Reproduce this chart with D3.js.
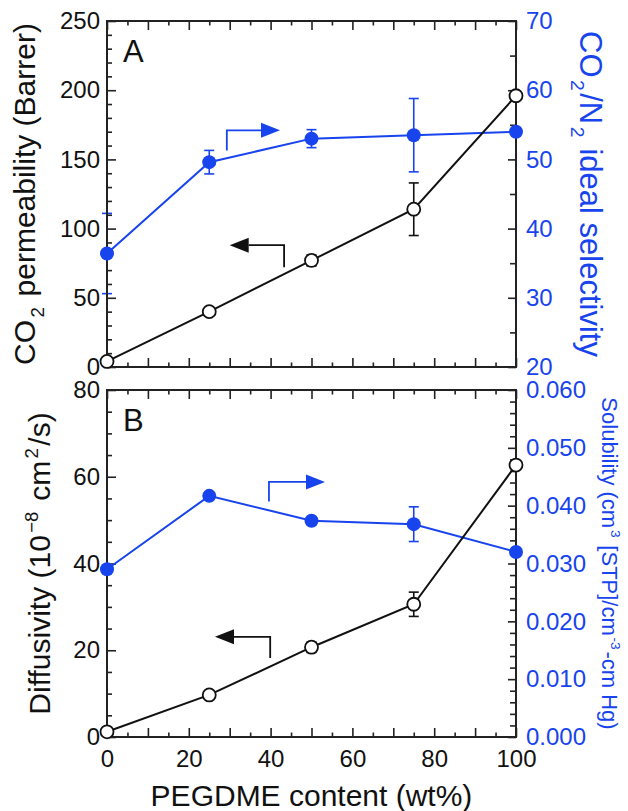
<!DOCTYPE html>
<html lang="en">
<head>
  <meta charset="UTF-8">
  <title>PEGDME content</title>
  <script src="https://cdn.jsdelivr.net/npm/d3@7"></script>
  <style>
    body{ margin:0; background:#fff; }
    svg text{ font-family: "Liberation Sans", Arial, sans-serif; }
  </style>
</head>
<body>
<div class="chart"></div>
<script>
// values
const pegdme = [0, 25, 50, 75, 100];
const permeability = [4, 40, 77, 114, 196];
const permeabilityErr = [0, 0, 4, 19, 0];
const selectivity = [36.4, 49.6, 53.0, 53.5, 54.0];
const selectivityErr = [5.8, 1.7, 1.3, 5.3, 0];
const diffusivity = [1.2, 9.7, 20.7, 30.6, 62.7];
const diffusivityErr = [0, 0, 1.2, 2.8, 0];
const solubility = [0.0290, 0.0417, 0.0374, 0.0368, 0.0320];
const solubilityErr = [0, 0, 0, 0.003, 0];

const xTicks = [0, 20, 40, 60, 80, 100];
const permTicks = [0, 50, 100, 150, 200, 250];
const selTicks = [20, 30, 40, 50, 60, 70];
const diffTicks = [0, 20, 40, 60, 80];
const solTicks = [0, 0.01, 0.02, 0.03, 0.04, 0.05, 0.06];

const W = 628, H = 811;
const blue = '#1844ee';
const left = 107, right = 516;

const svg = d3.select('.chart').append('svg').attr('width', W).attr('height', H);

const x = d3.scaleLinear().domain([0, 100]).range([left, right]);

function ticksAxis(g, axis, scale, majors, minorStep, majLen, minLen, pad, fmt, color) {
  const [a, b] = scale.domain();
  const minors = d3.range(a, b + minorStep / 2, minorStep).filter(v => !majors.some(m => Math.abs(m - v) < minorStep / 10));
  g.append('g').call(axis(scale).tickValues(minors).tickSize(-minLen).tickFormat(''));
  g.append('g').call(axis(scale).tickValues(majors).tickSize(-majLen).tickPadding(pad).tickFormat(fmt || (d => d)));
  g.selectAll('.domain').remove();
  g.selectAll('line').attr('stroke', '#222').attr('stroke-width', 1.6);
  g.selectAll('text').attr('font-size', 24).attr('fill', color || '#111');
}

// title pieces: [text, 'sub' | 'sup' | undefined]
function richText(el, parts, size, shift) {
  let off = 0, prevSmall = false;
  parts.forEach(p => {
    const want = p[1] === 'sub' ? shift : p[1] === 'sup' ? -shift * 1.3 : 0;
    el.append('tspan').attr('font-size', p[1] ? size * 0.62 : size).attr('dy', want - off)
      .attr('dx', (p[1] || prevSmall) ? size * 0.08 : 0).text(p[0]);
    off = want;
    prevSmall = !!p[1];
  });
}

function panel(o) {
  const g = svg.append('g');
  const yL = d3.scaleLinear().domain(o.leftDomain).range([o.bottom, o.top]);
  const yR = d3.scaleLinear().domain(o.rightDomain).range([o.bottom, o.top]);

  const xMajor = xTicks.concat([10, 30, 50, 70, 90]);
  ticksAxis(g.append('g').attr('transform', `translate(0,${o.bottom})`), d3.axisBottom, x, xMajor, 5, 9, 4.5, 13, o.xLabels ? (d => xTicks.includes(d) ? d : '') : (() => ''));
  ticksAxis(g.append('g').attr('transform', `translate(0,${o.top})`), d3.axisTop, x, xMajor, 5, 9, 4.5, 0, () => '');
  ticksAxis(g.append('g').attr('transform', `translate(${left},0)`), d3.axisLeft, yL, o.leftTicks, o.leftMinor, 9, 5, 7);
  ticksAxis(g.append('g').attr('transform', `translate(${right},0)`), d3.axisRight, yR, o.rightTicks, o.rightMinor, 8, 6, 10, o.rightFmt, blue);

  const bluePts = pegdme.map((v, i) => ({x: v, y: o.rightVals[i], e: o.rightErr[i]}));
  const blackPts = pegdme.map((v, i) => ({x: v, y: o.leftVals[i], e: o.leftErr[i]}));

  const errG = g.append('g');
  function errBars(pts, y, color) {
    const eb = errG.append('g').selectAll('g').data(pts.filter(p => p.e > 0)).join('g').attr('stroke', color).attr('stroke-width', 1.6);
    eb.append('line').attr('x1', d => x(d.x)).attr('x2', d => x(d.x)).attr('y1', d => y(d.y - d.e)).attr('y2', d => y(d.y + d.e));
    eb.append('line').attr('x1', d => x(d.x) - 5).attr('x2', d => x(d.x) + 5).attr('y1', d => y(d.y + d.e)).attr('y2', d => y(d.y + d.e));
    eb.append('line').attr('x1', d => x(d.x) - 5).attr('x2', d => x(d.x) + 5).attr('y1', d => y(d.y - d.e)).attr('y2', d => y(d.y - d.e));
  }
  errBars(bluePts, yR, blue);
  errBars(blackPts, yL, '#111');

  // frame
  g.append('rect').attr('x', left).attr('y', o.top).attr('width', right - left).attr('height', o.bottom - o.top)
    .attr('fill', 'none').attr('stroke', '#222').attr('stroke-width', 2);

  const plot = g.append('g');
  plot.append('path').datum(bluePts).attr('fill', 'none').attr('stroke', blue).attr('stroke-width', 2)
    .attr('d', d3.line().x(d => x(d.x)).y(d => yR(d.y)));
  plot.append('path').datum(blackPts).attr('fill', 'none').attr('stroke', '#111').attr('stroke-width', 2)
    .attr('d', d3.line().x(d => x(d.x)).y(d => yL(d.y)));
  plot.append('g').selectAll('circle').data(bluePts).join('circle')
    .attr('cx', d => x(d.x)).attr('cy', d => yR(d.y)).attr('r', 7).attr('fill', blue);
  plot.append('g').selectAll('circle').data(blackPts).join('circle')
    .attr('cx', d => x(d.x)).attr('cy', d => yL(d.y)).attr('r', 6.5).attr('fill', '#fff').attr('stroke', '#111').attr('stroke-width', 1.8);

  // direction arrows
  function arrow(pts, y, color, dir) {
    const p = pts.map(q => [x(q[0]), y(q[1])]);
    const tip = p[p.length - 1];
    const hl = 19, hw = 7.5;
    const base = tip[0] - dir * hl;
    plot.append('path').attr('fill', 'none').attr('stroke', color).attr('stroke-width', 1.8)
      .attr('d', d3.line()(p.slice(0, -1).concat([[base, tip[1]]])));
    plot.append('path').attr('fill', color)
      .attr('d', `M${tip[0]},${tip[1]}L${base},${tip[1] - hw}L${base},${tip[1] + hw}Z`);
  }
  arrow(o.blackArrow, yL, '#111', -1);
  arrow(o.blueArrow, yR, blue, 1);

  g.append('text').attr('x', left + 16).attr('y', o.top + 41).attr('font-size', 31).attr('fill', '#111').text(o.letter);

  // titles
  const lt = g.append('text').attr('transform', `translate(${o.leftTitleX},${(o.top + o.bottom) / 2}) rotate(-90)`)
    .attr('text-anchor', 'middle').attr('fill', '#111');
  richText(lt, o.leftTitle, 30, 9);
  const rt = g.append('text').attr('transform', `translate(${o.rightTitleX},${(o.top + o.bottom) / 2}) rotate(90)`)
    .attr('text-anchor', 'middle').attr('fill', blue);
  richText(rt, o.rightTitle, o.rightTitleSize, o.rightTitleSize * 0.3);
}

panel({
  top: 21, bottom: 367, letter: 'A',
  leftDomain: [0, 250], leftTicks: permTicks, leftMinor: 10, leftVals: permeability, leftErr: permeabilityErr,
  rightDomain: [20, 70], rightTicks: selTicks, rightMinor: 5, rightVals: selectivity, rightErr: selectivityErr,
  xLabels: false,
  blackArrow: [[43.3, 72], [43.3, 88], [30, 88]],
  blueArrow: [[29.3, 51.3], [29.3, 54.2], [42.3, 54.2]],
  leftTitleX: 35, leftTitle: [['CO'], ['2', 'sub'], [' permeability (Barrer)']],
  rightTitleX: 580, rightTitleSize: 31, rightTitle: [['CO'], ['2', 'sub'], ['/N'], ['2', 'sub'], [' ideal selectivity']]
});

panel({
  top: 390, bottom: 737, letter: 'B',
  leftDomain: [0, 80], leftTicks: diffTicks, leftMinor: 5, leftVals: diffusivity, leftErr: diffusivityErr,
  rightDomain: [0, 0.06], rightTicks: solTicks, rightMinor: 0.002, rightVals: solubility, rightErr: solubilityErr,
  rightFmt: d3.format('.3f'),
  xLabels: true,
  blackArrow: [[39.9, 18.2], [39.9, 23.1], [26.4, 23.1]],
  blueArrow: [[39.6, 0.0407], [39.6, 0.0441], [53.3, 0.0441]],
  leftTitleX: 50, leftTitle: [['Diffusivity (10'], ['\u22128', 'sup'], [' cm'], ['2', 'sup'], ['/s)']],
  rightTitleX: 602, rightTitleSize: 22, rightTitle: [['Solubility (cm'], ['3', 'sup'], [' [STP]/cm'], ['-3', 'sup'], ['-cm Hg)']]
});

svg.append('text').attr('x', (left + right) / 2).attr('y', 806).attr('text-anchor', 'middle')
  .attr('font-size', 30).attr('fill', '#111').text('PEGDME content (wt%)');
</script>
</body>
</html>
